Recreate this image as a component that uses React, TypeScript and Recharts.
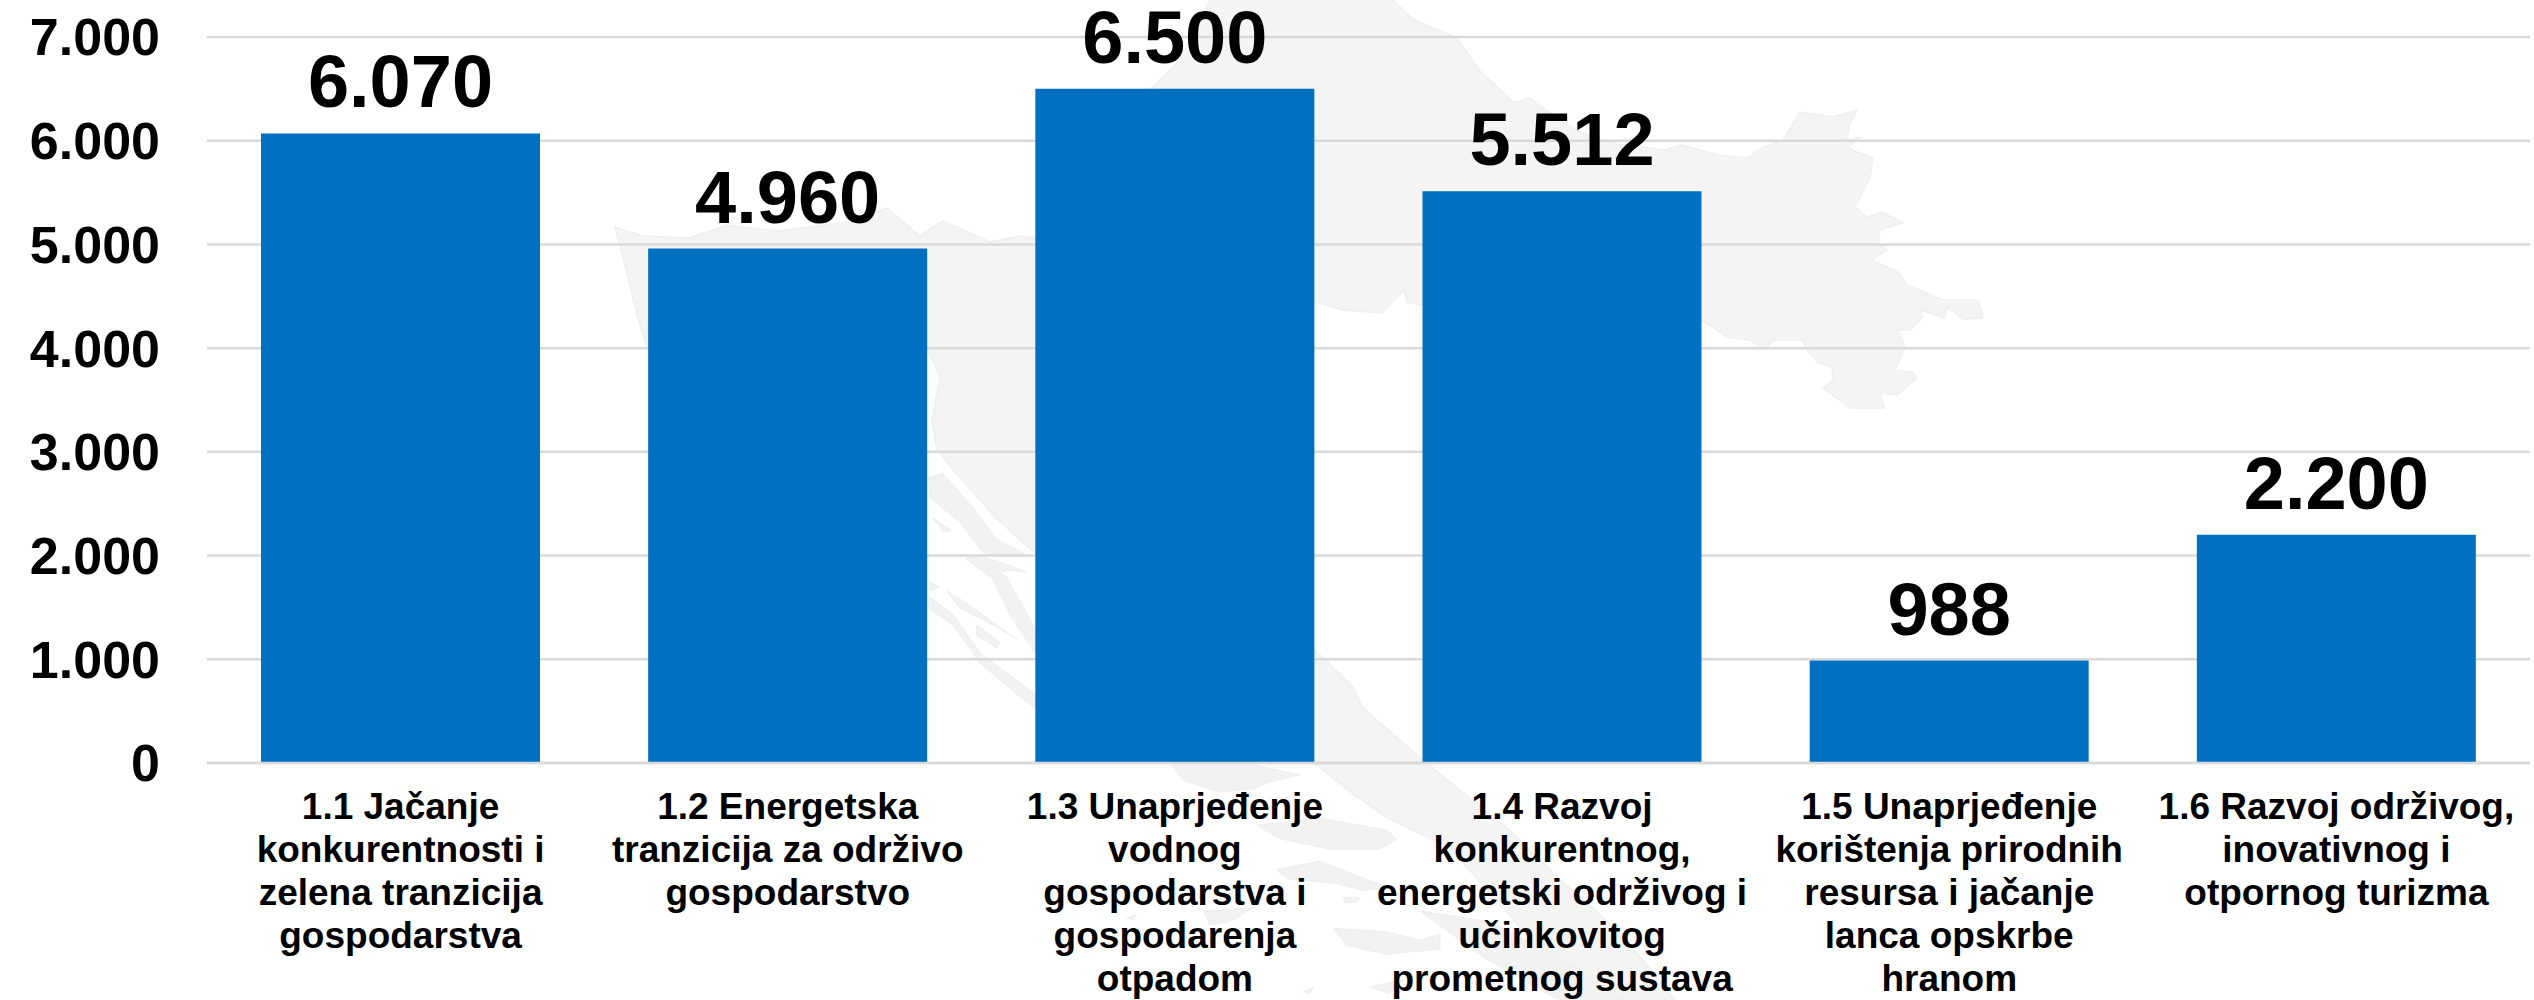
import React from "react";
import { BarChart, Bar, XAxis, YAxis, CartesianGrid, LabelList } from "recharts";

const categories = ["1.1","1.2","1.3","1.4","1.5","1.6"];
const values = [6070, 4960, 6500, 5512, 988, 2200];
const yTicks = [0, 1000, 2000, 3000, 4000, 5000, 6000, 7000];
const categoryLines = [
  ["1.1 Jačanje", "konkurentnosti i", "zelena tranzicija", "gospodarstva"],
  ["1.2 Energetska", "tranzicija za održivo", "gospodarstvo"],
  ["1.3 Unaprjeđenje", "vodnog", "gospodarstva i", "gospodarenja", "otpadom"],
  ["1.4 Razvoj", "konkurentnog,", "energetski održivog i", "učinkovitog", "prometnog sustava"],
  ["1.5 Unaprjeđenje", "korištenja prirodnih", "resursa i jačanje", "lanca opskrbe", "hranom"],
  ["1.6 Razvoj održivog,", "inovativnog i", "otpornog turizma"],
];
const data = categories.map((c, i) => ({ c, v: values[i] }));
const FONT = "'Liberation Sans', Arial, sans-serif";
const fmt = (n: number) => String(n).replace(/\B(?=(\d{3})+$)/g, ".");

// Faint decorative silhouette behind the chart (not data).
const mainland = "615,227 643,236 690,238 727,225 777,231 850,222 887,208 920,236 943,221 990,242 1020,236 1035,238 1120,120 1180,60 1210,0 1393,0 1414,20 1457,38 1479,70 1504,93 1514,103 1529,98 1575,130 1611,143 1664,150 1682,145 1718,155 1747,158 1763,147 1783,140 1800,112 1833,117 1857,110 1850,123 1847,140 1860,137 1847,148 1873,158 1870,177 1855,207 1867,217 1882,212 1903,223 1880,230 1878,243 1887,250 1872,260 1898,272 1907,285 1943,300 1978,300 1983,318 1963,319 1947,307 1945,318 1920,310 1923,317 1910,330 1897,330 1905,347 1895,370 1913,372 1917,378 1897,395 1880,393 1885,408 1850,408 1823,388 1833,380 1832,367 1818,363 1805,347 1803,340 1773,340 1765,350 1750,340 1727,337 1702,320 1600,320 1421,305 1407,302 1404,290 1382,313 1343,310 1314,302 1200,400 1314,649 1353,687 1363,708 1423,760 1460,790 1506,827 1564,883 1621,933 1675,1000 1583,1000 1525,933 1449,847 1387,818 1353,794 1314,763 1035,553 997,519 953,470 937,449 932,422 940,376 927,349 647,347 637,315 627,273";
const zb = (pts: number[]) => {
  const out: string[] = [];
  for (let i = 0; i < pts.length; i += 2) out.push(`${920 + pts[i] / 3},${460 + pts[i + 1] / 2.904}`);
  return out.join(" ");
};
const islands = [
  zb([25,50,70,40,160,140,230,230,320,275,190,270,120,180,30,110]),
  zb([40,170,95,205,70,210]),
  zb([135,285,190,280,320,325,260,320,210,340]),
  zb([25,350,60,370,30,380]),
  zb([80,380,130,410,290,520,220,480,120,430]),
  zb([25,395,100,450,180,560,345,680,345,720,290,680,180,590,100,480,25,430]),
  zb([170,480,240,530,230,545,170,510]),
  zb([200,310,260,340,345,490,345,560,270,450]),
  zb([1010,1060,1200,1040,1400,1075,1430,1100,1380,1130,1230,1130,1080,1100]),
  zb([755,885,1000,885,1140,915,1050,935,1000,955,900,965,790,930]),
  zb([1070,1190,1200,1165,1290,1200,1400,1240,1330,1250,1250,1230,1100,1215]),
  zb([850,1310,1000,1300,930,1340,870,1350]),
  zb([1240,1360,1400,1370,1500,1395,1560,1375,1560,1420,1400,1435,1280,1410]),
  zb([1270,1270,1320,1270,1310,1285,1275,1285]),
  zb([620,1330,650,1320,640,1335]),
  zb([1500,1310,1700,1340,1900,1430,2190,1620,1900,1560,1700,1450]),
  zb([1350,1530,1450,1510,1410,1550]),
  zb([1150,1545,1180,1530,1170,1550]),
];

const CatTick = (p: any) => {
  const lines = categoryLines[p.index] || [];
  return (
    <text x={p.x} y={p.y} textAnchor="middle" fontFamily={FONT} fontWeight={700} fontSize={37} fill="#000">
      {lines.map((l, i) => (
        <tspan key={i} x={p.x} y={p.y + 48 + i * 43}>{l}</tspan>
      ))}
    </text>
  );
};

export default function App() {
  return (
    <div style={{ position: "absolute", left: 0, top: 0, width: 2534, height: 1000, overflow: "hidden", background: "#fff" }}>
      <svg width={2534} height={1000} style={{ position: "absolute", left: 0, top: 0 }}>
        <polygon points={mainland} fill="#f4f4f4" stroke="#efefef" strokeWidth={1.5} strokeLinejoin="round" />
        {islands.map((p, i) => <polygon key={i} points={p} fill="#f2f2f2" stroke="#eeeeee" strokeWidth={1} strokeLinejoin="round" />)}
      </svg>
      <div style={{ position: "absolute", left: 0, top: 0 }}>
        <BarChart width={2534} height={1000} data={data} margin={{ top: 37, right: 4, bottom: 0, left: 0 }}>
          <CartesianGrid vertical={false} stroke="#d9d9d9" strokeWidth={2.5} />
          <XAxis dataKey="c" axisLine={{ stroke: "#d9d9d9", strokeWidth: 2.5 }} tickLine={false} tick={<CatTick />} interval={0} height={237} />
          <YAxis width={207} domain={[0, 7000]} ticks={yTicks} tickFormatter={fmt} axisLine={false} tickLine={false}
            tick={{ fontFamily: FONT, fontWeight: 700, fontSize: 52, fill: "#000" }} tickMargin={41} />
          <Bar dataKey="v" fill="#0070c0" isAnimationActive={false} barSize={279}>
            <LabelList dataKey="v" position="top" offset={26} formatter={fmt as any}
              style={{ fontFamily: FONT, fontWeight: 700, fontSize: 74, fill: "#000" }} />
          </Bar>
        </BarChart>
      </div>
    </div>
  );
}
